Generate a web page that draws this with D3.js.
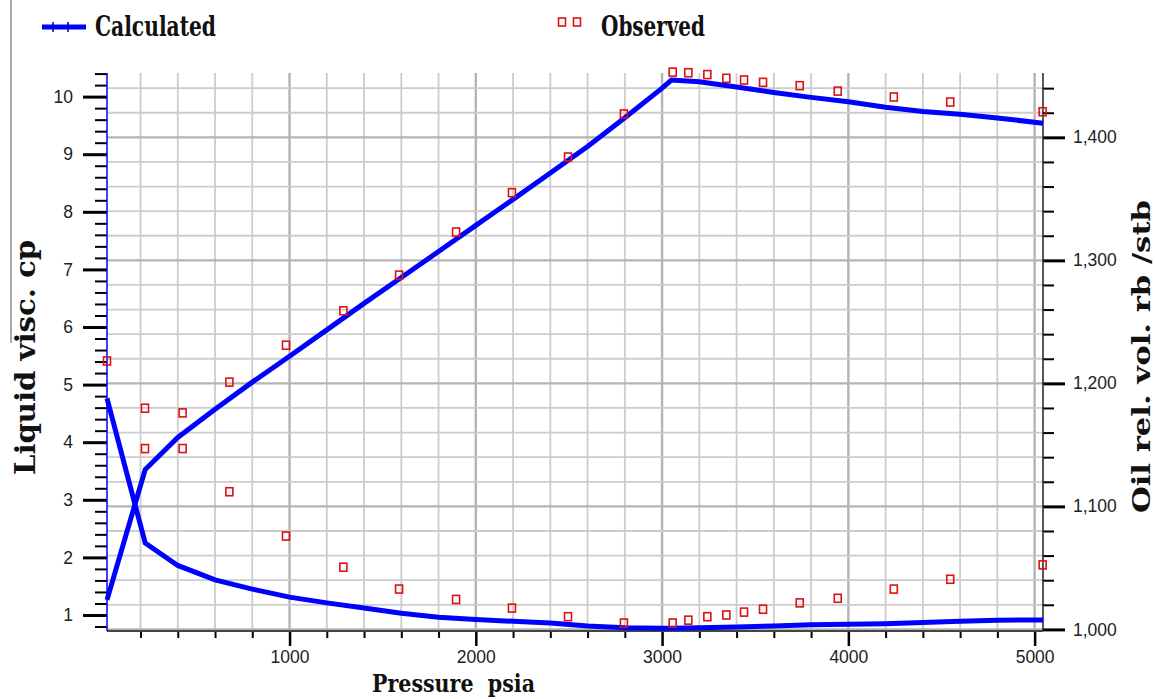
<!DOCTYPE html>
<html>
<head>
<meta charset="utf-8">
<script src="https://cdn.jsdelivr.net/npm/d3@7"></script>
<style>
body { margin: 0; background: #fff; }
svg { display: block; }
.tick text { font-family: "Liberation Sans", Arial, sans-serif; font-size: 17.5px; fill: #222; }
.title { font-family: "DejaVu Serif", serif; font-weight: bold; fill: #111; }
</style>
</head>
<body>
<div id="chart"></div>
<script>
// calculated curves
var calcPressure = [20, 225, 400, 600, 800, 1000, 1200, 1400, 1600, 1800, 2000, 2200, 2400, 2600, 2800, 3000, 3050, 3200, 3400, 3600, 3800, 4000, 4200, 4400, 4600, 4800, 5045];
var calcViscosity = [4.76, 2.25, 1.86, 1.61, 1.45, 1.31, 1.21, 1.12, 1.03, 0.96, 0.92, 0.89, 0.86, 0.81, 0.78, 0.77, 0.77, 0.78, 0.79, 0.81, 0.83, 0.84, 0.85, 0.87, 0.89, 0.91, 0.915];
var calcOilVolume = [1.024, 1.130, 1.156, 1.179, 1.201, 1.222, 1.2435, 1.265, 1.2861, 1.3072, 1.3284, 1.3496, 1.371, 1.3925, 1.416, 1.440, 1.4466, 1.4452, 1.441, 1.4365, 1.4325, 1.429, 1.4245, 1.421, 1.4188, 1.4158, 1.4114];

// observed points
var obsViscPressure = [20, 224, 426, 677, 981, 1289, 1588, 1894, 2194, 2495, 2795, 3057, 3141, 3243, 3345, 3440, 3542, 3739, 3943, 4244, 4547, 5043];
var obsViscosity = [5.41, 4.59, 3.89, 3.14, 2.37, 1.83, 1.45, 1.27, 1.12, 0.97, 0.86, 0.86, 0.91, 0.97, 1.00, 1.05, 1.10, 1.21, 1.29, 1.45, 1.62, 1.87];
var obsVolPressure = [224, 426, 677, 981, 1289, 1588, 1894, 2194, 2495, 2795, 3057, 3141, 3243, 3345, 3440, 3542, 3739, 3943, 4244, 4547, 5043];
var obsOilVolume = [1.147, 1.176, 1.201, 1.231, 1.259, 1.288, 1.323, 1.355, 1.384, 1.419, 1.453, 1.4525, 1.451, 1.448, 1.4466, 1.4447, 1.442, 1.4376, 1.4328, 1.4287, 1.4208];

var pressureTicks = [1000, 2000, 3000, 4000, 5000];
var viscTicks = [1, 2, 3, 4, 5, 6, 7, 8, 9, 10];
var volumeTicks = [1.0, 1.1, 1.2, 1.3, 1.4];

var svg = d3.select("#chart").append("svg")
    .attr("width", 1155)
    .attr("height", 699);

var plotLeft = 107, plotRight = 1043, plotTop = 73, plotBottom = 631;

var x = d3.scaleLinear().domain([20, 5045]).range([plotLeft, plotRight]);
var yVisc = d3.scaleLinear().domain([0.722, 10.41]).range([plotBottom, plotTop]);
var yVol = d3.scaleLinear().domain([0.9987, 1.4523]).range([plotBottom, plotTop]);

// stray frame line top-left
svg.append("line")
    .attr("x1", 11).attr("x2", 11).attr("y1", 0).attr("y2", 343)
    .attr("stroke", "#555").attr("stroke-width", 1);

// grid
var grid = svg.append("g");
var gridX = d3.range(200, 5001, 200);
var gridY = d3.range(100, 145, 2).map(function (v) { return v / 100; });

grid.selectAll(".gx")
    .data(gridX)
    .enter().append("line")
    .attr("x1", function (d) { return x(d); })
    .attr("x2", function (d) { return x(d); })
    .attr("y1", plotTop).attr("y2", plotBottom)
    .attr("stroke", function (d) { return d % 1000 === 0 ? "#b4b4b4" : "#cccccc"; })
    .attr("stroke-width", function (d) { return d % 1000 === 0 ? 2.4 : 1.8; });

grid.selectAll(".gy")
    .data(gridY)
    .enter().append("line")
    .attr("x1", plotLeft).attr("x2", plotRight)
    .attr("y1", function (d) { return yVol(d); })
    .attr("y2", function (d) { return yVol(d); })
    .attr("stroke", function (d) { return Math.round(d * 100) % 10 === 0 ? "#b4b4b4" : "#cccccc"; })
    .attr("stroke-width", function (d) { return Math.round(d * 100) % 10 === 0 ? 2.4 : 1.8; });

// axes
function styleAxis(g, w) {
    g.select(".domain").remove();
    g.selectAll(".tick line").attr("stroke", "#000").attr("stroke-width", w);
}

var viscMinor = d3.range(4, 53).map(function (v) { return v / 5; })
    .filter(function (v) { return Math.abs(v - Math.round(v)) > 0.01; });
svg.append("g")
    .attr("transform", "translate(" + plotLeft + ",0)")
    .call(d3.axisLeft(yVisc).tickValues(viscMinor).tickSize(12).tickFormat(""))
    .call(styleAxis, 2);
svg.append("g")
    .attr("transform", "translate(" + plotLeft + ",0)")
    .call(d3.axisLeft(yVisc).tickValues(viscTicks).tickSize(24).tickPadding(10).tickFormat(d3.format("d")))
    .call(styleAxis, 3);

var volMinor = d3.range(100, 146, 2).filter(function (v) { return v % 10 !== 0; })
    .map(function (v) { return v / 100; });
svg.append("g")
    .attr("transform", "translate(" + plotRight + ",0)")
    .call(d3.axisRight(yVol).tickValues(volMinor).tickSize(11).tickFormat(""))
    .call(styleAxis, 2);
svg.append("g")
    .attr("transform", "translate(" + plotRight + ",0)")
    .call(d3.axisRight(yVol).tickValues(volumeTicks).tickSize(22).tickPadding(8)
        .tickFormat(function (d) { return d3.format(".3f")(d).replace(".", ","); }))
    .call(styleAxis, 3);

var pressMinor = d3.range(200, 5001, 200).filter(function (v) { return v % 1000 !== 0; });
svg.append("g")
    .attr("transform", "translate(0," + plotBottom + ")")
    .call(d3.axisBottom(x).tickValues(pressMinor).tickSize(7).tickFormat(""))
    .call(styleAxis, 2);
svg.append("g")
    .attr("transform", "translate(0," + plotBottom + ")")
    .call(d3.axisBottom(x).tickValues(pressureTicks).tickSize(15).tickPadding(5).tickFormat(d3.format("d")))
    .call(styleAxis, 2.5);

// axis lines
svg.append("line").attr("x1", plotLeft).attr("x2", plotRight).attr("y1", plotBottom).attr("y2", plotBottom)
    .attr("stroke", "#444").attr("stroke-width", 2);
svg.append("line").attr("x1", plotRight).attr("x2", plotRight).attr("y1", plotTop).attr("y2", plotBottom)
    .attr("stroke", "#222").attr("stroke-width", 1.5);
svg.append("line").attr("x1", plotLeft).attr("x2", plotLeft).attr("y1", plotTop).attr("y2", plotBottom)
    .attr("stroke", "#0000ff").attr("stroke-width", 1.5);

// calculated lines
var viscLine = d3.line()
    .x(function (d, i) { return x(calcPressure[i]); })
    .y(function (d) { return yVisc(d); });
var volLine = d3.line()
    .x(function (d, i) { return x(calcPressure[i]); })
    .y(function (d) { return yVol(d); });

svg.append("path").datum(calcViscosity)
    .attr("d", viscLine)
    .attr("fill", "none").attr("stroke", "#0000ff").attr("stroke-width", 5);
svg.append("path").datum(calcOilVolume)
    .attr("d", volLine)
    .attr("fill", "none").attr("stroke", "#0000ff").attr("stroke-width", 5);

// observed points
function drawSquares(xs, ys, scale) {
    svg.append("g").selectAll("rect")
        .data(ys)
        .enter().append("rect")
        .attr("x", function (d, i) { return x(xs[i]) - 3.5; })
        .attr("y", function (d) { return scale(d) - 4; })
        .attr("width", 7).attr("height", 8)
        .attr("fill", "none").attr("stroke", "#dd1111").attr("stroke-width", 1.6);
}
drawSquares(obsViscPressure, obsViscosity, yVisc);
drawSquares(obsVolPressure, obsOilVolume, yVol);

// legend
svg.append("line").attr("x1", 42).attr("x2", 86).attr("y1", 27).attr("y2", 27)
    .attr("stroke", "#0000ff").attr("stroke-width", 5);
[53, 68].forEach(function (lx) {
    svg.append("line").attr("x1", lx).attr("x2", lx).attr("y1", 22).attr("y2", 32)
        .attr("stroke", "#0000aa").attr("stroke-width", 1.5);
});
svg.append("text").attr("class", "title")
    .attr("x", 95).attr("y", 36).attr("font-size", 27)
    .attr("textLength", 121).attr("lengthAdjust", "spacingAndGlyphs")
    .text("Calculated");

[562, 577].forEach(function (lx) {
    svg.append("rect").attr("x", lx - 3.5).attr("y", 18).attr("width", 7).attr("height", 8)
        .attr("fill", "none").attr("stroke", "#dd1111").attr("stroke-width", 1.6);
});
svg.append("text").attr("class", "title")
    .attr("x", 601).attr("y", 36).attr("font-size", 27)
    .attr("textLength", 104).attr("lengthAdjust", "spacingAndGlyphs")
    .text("Observed");

// axis titles
svg.append("text").attr("class", "title")
    .attr("x", 372).attr("y", 692).attr("font-size", 25)
    .attr("textLength", 163).attr("lengthAdjust", "spacingAndGlyphs")
    .text("Pressure  psia").style("white-space", "pre");

svg.append("text").attr("class", "title")
    .attr("transform", "translate(35,475) rotate(-90)")
    .attr("font-size", 28)
    .attr("textLength", 235).attr("lengthAdjust", "spacingAndGlyphs")
    .text("Liquid visc. cp").style("white-space", "pre");

svg.append("text").attr("class", "title")
    .attr("transform", "translate(1150,513) rotate(-90)")
    .attr("font-size", 25)
    .attr("textLength", 313).attr("lengthAdjust", "spacingAndGlyphs")
    .text("Oil rel. vol. rb /stb").style("white-space", "pre");
</script>
</body>
</html>
